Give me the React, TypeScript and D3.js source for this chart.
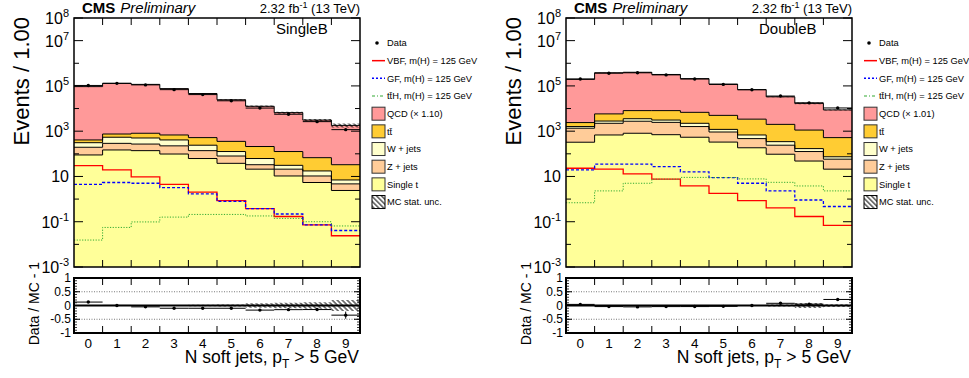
import React from "react";
import * as d3 from "d3";

// ---------- data ----------
const BINS = [0, 1, 2, 3, 4, 5, 6, 7, 8, 9];
const X_TICK_LABELS = ["0", "1", "2", "3", "4", "5", "6", "7", "8", "9"];
const Y_LABEL_EXPONENTS = [-3, -1, 1, 3, 5, 7, 8];
const RATIO_TICKS = [-1, -0.5, 0, 0.5, 1];
const RATIO_TICK_LABELS = ["-1", "-0.5", "0", "0.5", "1"];

// SingleB
const SB_SINGLET = [89, 148, 138, 98, 62, 38, 21, 10.5, 5.4, 2.4];
const SB_ZJETS = [106, 142, 132, 127, 76, 42, 12, 10.5, 5.1, 2.3];
const SB_WJETS = [115, 250, 230, 185, 102, 46, 29, 10, 7, 2.3];
const SB_TTBAR = [100, 210, 310, 270, 280, 229, 148, 95, 50, 26];
const SB_QCD = [92600, 129000, 116000, 75300, 45500, 24100, 12400, 6470, 3030, 1770];
const SB_DATA = [104600, 130000, 111000, 68400, 41400, 22000, 10500, 5600, 2640, 1170];
const SB_DATA_ERR = [0.01, 0.01, 0.01, 0.01, 0.015, 0.015, 0.02, 0.03, 0.04, 0.13];
const SB_MC_UNC = [0.01, 0.01, 0.015, 0.02, 0.03, 0.04, 0.08, 0.1, 0.12, 0.2];
const SB_VBF = [30, 19.5, 9.5, 4.5, 2.05, 0.85, 0.38, 0.17, 0.072, 0.024];
const SB_GF = [4.5, 5.4, 5.0, 3.2, 1.7, 0.8, 0.38, 0.22, 0.072, 0.041];
const SB_TTH = [0.0155, 0.056, 0.098, 0.16, 0.21, 0.21, 0.18, 0.14, 0.1, 0.065];

// DoubleB
const DB_SINGLET = [325, 680, 810, 700, 540, 330, 185, 96, 48, 21];
const DB_ZJETS = [1025, 1550, 1940, 1750, 1060, 590, 285, 144, 78, 37];
const DB_WJETS = [250, 570, 800, 650, 630, 280, 210, 105, 44, 16];
const DB_TTBAR = [800, 3000, 4550, 5000, 4570, 3800, 2720, 1655, 950, 446];
const DB_QCD = [192600, 374000, 392000, 312000, 203000, 115000, 64600, 31000, 15900, 8180];
const DB_DATA = [202800, 364800, 380000, 307200, 201600, 116400, 68000, 35640, 17850, 10610];
const DB_DATA_ERR = [0.005, 0.005, 0.005, 0.005, 0.005, 0.005, 0.01, 0.01, 0.015, 0.02];
const DB_MC_UNC = [0.01, 0.01, 0.01, 0.01, 0.01, 0.015, 0.02, 0.04, 0.09, 0.05];
const DB_VBF = [23, 21, 13, 7.6, 3.8, 1.8, 0.85, 0.41, 0.17, 0.069];
const DB_GF = [19.5, 35, 35, 27, 16, 8.9, 5.0, 2.3, 0.91, 0.47];
const DB_TTH = [0.69, 2.3, 5.0, 7.6, 9.1, 9.0, 7.8, 5.5, 3.8, 2.3];

// ---------- style ----------
const FONT = "'Liberation Sans', Arial, Helvetica, sans-serif";
const COLORS: Record<string, string> = {
  st: "#ffff99",
  z: "#ffcc99",
  w: "#ffffcc",
  tt: "#ffcc33",
  qcd: "#ff9999",
};
const KEYS = ["st", "z", "w", "tt", "qcd"];

type PanelProps = {
  dx: number;
  id: string;
  label: string;
  labelX: number;
  qcdLabel: string;
  st: number[];
  z: number[];
  w: number[];
  tt: number[];
  qcd: number[];
  data: number[];
  dataErr: number[];
  mcUnc: number[];
  vbf: number[];
  gf: number[];
  tth: number[];
};

function Panel(p: PanelProps) {
  const { dx } = p;
  const x0 = 74 + dx;
  const x1 = 360 + dx;
  const yTop = 18;
  const yBot = 267;
  const rTop = 278;
  const rBot = 333;
  const x = d3.scaleLinear().domain([-0.5, 9.5]).range([x0, x1]);
  const y = d3.scaleLog().domain([1e-3, 1e8]).range([yBot, yTop]).clamp(true);
  const yr = d3.scaleLinear().domain([-1, 1]).range([rBot, rTop]);

  const table = BINS.map((b, i) => ({
    bin: b,
    st: p.st[i],
    z: p.z[i],
    w: p.w[i],
    tt: p.tt[i],
    qcd: p.qcd[i],
  }));
  const series = d3.stack<any>().keys(KEYS)(table);
  const total = BINS.map((_, i) => series[series.length - 1][i][1]);

  type SP = { x: number; lo: number; hi: number };
  const stepPts = (lo: number[], hi: number[]): SP[] =>
    BINS.flatMap((b, i) => [
      { x: b - 0.5, lo: lo[i], hi: hi[i] },
      { x: b + 0.5, lo: lo[i], hi: hi[i] },
    ]);
  const area = d3
    .area<SP>()
    .x((d) => x(d.x))
    .y0((d) => y(Math.max(d.lo, 1e-3)))
    .y1((d) => y(Math.max(d.hi, 1e-3)));
  const line = d3
    .line<SP>()
    .x((d) => x(d.x))
    .y((d) => y(Math.max(d.hi, 1e-3)));

  const areaR = d3
    .area<SP>()
    .x((d) => x(d.x))
    .y0((d) => yr(d.lo))
    .y1((d) => yr(d.hi));

  const hatchId = `hatch-${p.id}`;
  const clipId = `clip-${p.id}`;

  const mcLo = total.map((t, i) => t * (1 - p.mcUnc[i]));
  const mcHi = total.map((t, i) => t * (1 + p.mcUnc[i]));
  const ratio = p.data.map((d, i) => d / total[i] - 1);

  const decades = d3.range(-3, 9);
  const binEdges = d3.range(0, 9).map((k) => k + 0.5);
  const minorR = d3.range(-1, 1.001, 0.1);

  const legY = (k: number) => 43 + 17.67 * k;
  const lx = 372 + dx;
  const legBoxes = [
    { key: "qcd", text: p.qcdLabel },
    { key: "tt", text: "tt\u0304" },
    { key: "w", text: "W + jets" },
    { key: "z", text: "Z + jets" },
    { key: "st", text: "Single t" },
  ];

  return (
    <g>
      <defs>
        <pattern
          id={hatchId}
          patternUnits="userSpaceOnUse"
          width={3.5}
          height={3.5}
          patternTransform="rotate(45)"
        >
          <line x1={0} y1={1.75} x2={3.5} y2={1.75} stroke="#000" strokeWidth={1} />
        </pattern>
        <clipPath id={clipId}>
          <rect x={x0} y={yTop} width={x1 - x0} height={yBot - yTop} />
        </clipPath>
      </defs>

      {/* stacked backgrounds */}
      <g clipPath={`url(#${clipId})`}>
        {series.map((s) => (
          <path
            key={s.key}
            d={area(stepPts(s.map((d) => d[0]), s.map((d) => d[1])))!}
            fill={COLORS[s.key]}
          />
        ))}
        {series.map((s) => (
          <path
            key={"l" + s.key}
            d={line(stepPts(s.map((d) => d[0]), s.map((d) => d[1])))!}
            fill="none"
            stroke="#000"
            strokeWidth={1}
          />
        ))}
        {/* signals */}
        <path
          d={line(stepPts(p.vbf, p.vbf))!}
          fill="none"
          stroke="#ff0000"
          strokeWidth={1.3}
        />
        <path
          d={line(stepPts(p.gf, p.gf))!}
          fill="none"
          stroke="#0000ff"
          strokeWidth={1.3}
          strokeDasharray="3,2"
        />
        <path
          d={line(stepPts(p.tth, p.tth))!}
          fill="none"
          stroke="#33aa33"
          strokeWidth={1}
          strokeDasharray="1.2,1.5"
        />
        {/* MC stat band */}
        <path d={area(stepPts(mcLo, mcHi))!} fill={`url(#${hatchId})`} />
        {/* data */}
        {BINS.map((b, i) => (
          <g key={"d" + b}>
            <line
              x1={x(b - 0.5)}
              x2={x(b + 0.5)}
              y1={y(p.data[i])}
              y2={y(p.data[i])}
              stroke="#000"
              strokeWidth={1}
            />
            <circle cx={x(b)} cy={y(p.data[i])} r={1.7} fill="#000" />
          </g>
        ))}
      </g>

      {/* main frame */}
      <rect x={x0} y={yTop} width={x1 - x0} height={yBot - yTop} fill="none" stroke="#000" strokeWidth={1.5} />
      {decades.map((e) => {
        const long = Y_LABEL_EXPONENTS.includes(e) || e === 8;
        const len = long ? 9 : 5;
        const yy = y(Math.pow(10, e));
        return (
          <g key={"yt" + e}>
            <line x1={x0} x2={x0 + len} y1={yy} y2={yy} stroke="#000" strokeWidth={1} />
            <line x1={x1} x2={x1 - len} y1={yy} y2={yy} stroke="#000" strokeWidth={1} />
          </g>
        );
      })}
      {Y_LABEL_EXPONENTS.map((e) => (
        <text
          key={"yl" + e}
          x={x0 - 5}
          y={y(Math.pow(10, e)) + 6}
          textAnchor="end"
          fontSize={16}
          fontFamily={FONT}
        >
          {e === 1 ? (
            "10"
          ) : (
            <>
              {"10"}
              <tspan dy={-7} fontSize={11}>
                {String(e)}
              </tspan>
            </>
          )}
        </text>
      ))}
      {binEdges.map((b) => (
        <g key={"xt" + b}>
          <line x1={x(b)} x2={x(b)} y1={yBot} y2={yBot - 7} stroke="#000" strokeWidth={1} />
          <line x1={x(b)} x2={x(b)} y1={yTop} y2={yTop + 7} stroke="#000" strokeWidth={1} />
          <line x1={x(b)} x2={x(b)} y1={rBot} y2={rBot - 7} stroke="#000" strokeWidth={1} />
          <line x1={x(b)} x2={x(b)} y1={rTop} y2={rTop + 7} stroke="#000" strokeWidth={1} />
        </g>
      ))}

      {/* ratio panel */}
      {[0.5, -0.5].map((v) => (
        <line key={"dl" + v} x1={x0} x2={x1} y1={yr(v)} y2={yr(v)} stroke="#555" strokeWidth={0.8} strokeDasharray="1,1.5" />
      ))}
      <path
        d={areaR(stepPts(p.mcUnc.map((u) => -u), p.mcUnc))!}
        fill={`url(#${hatchId})`}
      />
      <line x1={x0} x2={x1} y1={yr(0)} y2={yr(0)} stroke="#000" strokeWidth={2} />
      {BINS.map((b, i) => (
        <g key={"r" + b}>
          <line x1={x(b - 0.5)} x2={x(b + 0.5)} y1={yr(ratio[i])} y2={yr(ratio[i])} stroke="#000" strokeWidth={1} />
          <line
            x1={x(b)}
            x2={x(b)}
            y1={yr(Math.max(-1, ratio[i] - p.dataErr[i]))}
            y2={yr(Math.min(1, ratio[i] + p.dataErr[i]))}
            stroke="#000"
            strokeWidth={1}
          />
          <circle cx={x(b)} cy={yr(ratio[i])} r={1.7} fill="#000" />
        </g>
      ))}
      <rect x={x0} y={rTop} width={x1 - x0} height={rBot - rTop} fill="none" stroke="#000" strokeWidth={2} />
      {minorR.map((v, k) => (
        <g key={"rm" + k}>
          <line x1={x0} x2={x0 + 3} y1={yr(v)} y2={yr(v)} stroke="#000" strokeWidth={0.8} />
          <line x1={x1} x2={x1 - 3} y1={yr(v)} y2={yr(v)} stroke="#000" strokeWidth={0.8} />
        </g>
      ))}
      {RATIO_TICKS.map((v, k) => (
        <g key={"rt" + k}>
          <line x1={x0} x2={x0 + 6} y1={yr(v)} y2={yr(v)} stroke="#000" strokeWidth={1} />
          <line x1={x1} x2={x1 - 6} y1={yr(v)} y2={yr(v)} stroke="#000" strokeWidth={1} />
          <text x={x0 - 3} y={yr(v) + 4} textAnchor="end" fontSize={12} fontFamily={FONT}>
            {RATIO_TICK_LABELS[k]}
          </text>
        </g>
      ))}
      {BINS.map((b, i) => (
        <text key={"xl" + b} x={x(b)} y={348} textAnchor="middle" fontSize={13.5} fontFamily={FONT}>
          {X_TICK_LABELS[i]}
        </text>
      ))}

      {/* axis titles */}
      <text x={x1 - 1} y={363} textAnchor="end" fontSize={17.5} fontFamily={FONT}>
        N soft jets, p
        <tspan dy={5} fontSize={12}>T</tspan>
        <tspan dy={-5}> &gt; 5 GeV</tspan>
      </text>
      <text
        transform={`translate(${29 + dx},17) rotate(-90)`}
        textAnchor="end"
        fontSize={22}
        fontFamily={FONT}
      >
        Events / 1.00
      </text>
      <text
        transform={`translate(${39 + dx},262) rotate(-90)`}
        textAnchor="end"
        fontSize={14}
        fontFamily={FONT}
      >
        Data / MC - 1
      </text>

      {/* header */}
      <text x={82 + dx} y={12.5} fontSize={15} fontWeight="bold" fontFamily={FONT}>
        CMS
        <tspan fontWeight="normal" fontStyle="italic" dx={5}>
          Preliminary
        </tspan>
      </text>
      <text x={x1} y={12.5} textAnchor="end" fontSize={13} fontFamily={FONT}>
        2.32 fb
        <tspan dy={-5} fontSize={9}>-1</tspan>
        <tspan dy={5}> (13 TeV)</tspan>
      </text>
      <text x={p.labelX} y={34} fontSize={15} fontFamily={FONT}>
        {p.label}
      </text>

      {/* legend */}
      <g fontFamily={FONT} fontSize={9.3}>
        <circle cx={lx + 5} cy={legY(0)} r={1.8} fill="#000" />
        <text x={lx + 15} y={legY(0) + 3.3}>Data</text>
        <line x1={lx} x2={lx + 13} y1={legY(1)} y2={legY(1)} stroke="#ff0000" strokeWidth={1.5} />
        <text x={lx + 15} y={legY(1) + 3.3}>VBF, m(H) = 125 GeV</text>
        <line x1={lx} x2={lx + 13} y1={legY(2)} y2={legY(2)} stroke="#0000ff" strokeWidth={1.5} strokeDasharray="2,2" />
        <text x={lx + 15} y={legY(2) + 3.3}>GF, m(H) = 125 GeV</text>
        <line x1={lx} x2={lx + 13} y1={legY(3)} y2={legY(3)} stroke="#33aa33" strokeWidth={1.2} strokeDasharray="3,2,1,2" />
        <text x={lx + 15} y={legY(3) + 3.3}>{"tt\u0304H, m(H) = 125 GeV"}</text>
        {legBoxes.map((lb, k) => (
          <g key={lb.key}>
            <rect x={lx} y={legY(4 + k) - 6.5} width={13} height={13} fill={COLORS[lb.key]} stroke="#333" strokeWidth={1} />
            <text x={lx + 15} y={legY(4 + k) + 3.3}>{lb.text}</text>
          </g>
        ))}
        <rect x={lx} y={legY(9) - 6.5} width={13} height={13} fill={`url(#${hatchId})`} stroke="#000" strokeWidth={1} />
        <text x={lx + 15} y={legY(9) + 3.3}>MC stat. unc.</text>
      </g>
    </g>
  );
}

export default function App() {
  return (
    <svg
      width={969}
      height={378}
      style={{ position: "absolute", left: 0, top: 0, background: "#fff" }}
    >
      <rect width={969} height={378} fill="#fff" />
      <Panel
        dx={0}
        id="sb"
        label="SingleB"
        labelX={276}
        qcdLabel={"QCD (\u00d7 1.10)"}
        st={SB_SINGLET}
        z={SB_ZJETS}
        w={SB_WJETS}
        tt={SB_TTBAR}
        qcd={SB_QCD}
        data={SB_DATA}
        dataErr={SB_DATA_ERR}
        mcUnc={SB_MC_UNC}
        vbf={SB_VBF}
        gf={SB_GF}
        tth={SB_TTH}
      />
      <Panel
        dx={492}
        id="db"
        label="DoubleB"
        labelX={759}
        qcdLabel={"QCD (\u00d7 1.01)"}
        st={DB_SINGLET}
        z={DB_ZJETS}
        w={DB_WJETS}
        tt={DB_TTBAR}
        qcd={DB_QCD}
        data={DB_DATA}
        dataErr={DB_DATA_ERR}
        mcUnc={DB_MC_UNC}
        vbf={DB_VBF}
        gf={DB_GF}
        tth={DB_TTH}
      />
    </svg>
  );
}
